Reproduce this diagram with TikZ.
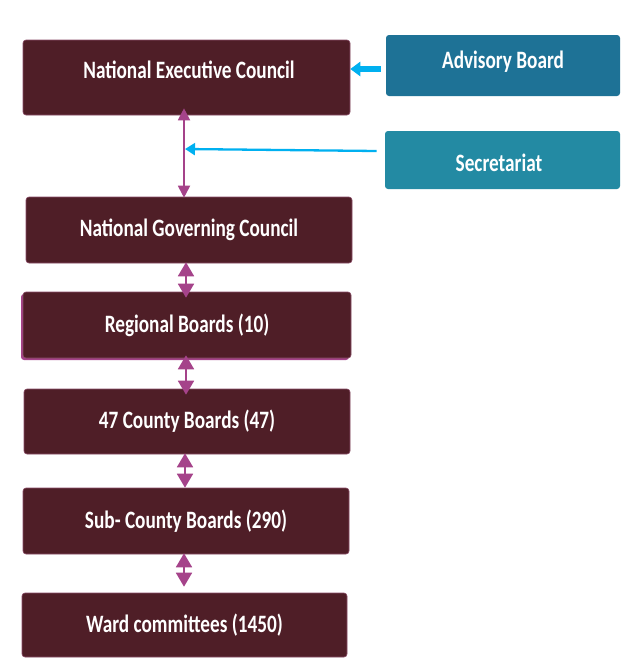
\documentclass[tikz,border=0pt]{standalone}
\usepackage{fontspec}
\usetikzlibrary{arrows.meta}
\newfontfamily\boxfont[FakeStretch=0.77]{Carlito}
\definecolor{maroon}{HTML}{4F1E27}
\definecolor{maroonedge}{HTML}{8A4C66}
\definecolor{advblue}{HTML}{1E7296}
\definecolor{secblue}{HTML}{238AA3}
\definecolor{magarrow}{HTML}{A5438A}
\definecolor{cyanarrow}{HTML}{00B0F0}
\tikzset{
  box/.style={rectangle, rounded corners=3pt, fill=maroon, draw=maroonedge, line width=0.6pt,
    text=white, font=\boxfont\bfseries\fontsize{25}{28}\selectfont, inner sep=0pt},
  sidebox/.style={box, draw=none},
  txt/.style={text=white, font=\boxfont\bfseries\fontsize{25}{28}\selectfont, inner sep=0pt},
  longlink/.style={magarrow, line width=1.8pt, {Triangle[width=12pt,length=12pt]}-{Triangle[width=12pt,length=12pt]}},
  shortlink/.style={magarrow, line width=1.8pt, {Triangle[width=16pt,length=14pt]}-{Triangle[width=16pt,length=14pt]}},
  seclink/.style={cyanarrow, line width=2.3pt, -{Triangle[width=12pt,length=10pt]}},
  advlink/.style={cyanarrow, line width=6pt, -{Triangle[width=14pt,length=10pt]}}
}
\begin{document}
\begin{tikzpicture}[x=1pt,y=-1pt]
\useasboundingbox[fill=white] (0,0) rectangle (638,670);
% boxes
\node[box, minimum width=327pt, minimum height=75pt] (nec) at (186.5,77.5) {};
\node[txt] (necl) at (189,70) {National Executive Council};
\node[sidebox, fill=advblue, minimum width=234pt, minimum height=61pt] (adv) at (503,65.5) {};
\node[txt] (advl) at (503,62) {Advisory Board};
\node[sidebox, fill=secblue, minimum width=235pt, minimum height=58pt] (sec) at (502.5,160) {};
\node[txt] (secl) at (499,163) {Secretariat};
\node[box, minimum width=326pt, minimum height=66pt] (ngc) at (189,230) {National Governing Council};
\fill[magarrow, rounded corners=3pt] (21,294) rectangle (349,360);
\node[box, minimum width=328pt, minimum height=66pt] (reg) at (187,325) {Regional Boards (10)};
\node[box, minimum width=326pt, minimum height=65pt] (cty) at (187,421.5) {47 County Boards (47)};
\node[box, minimum width=326pt, minimum height=66pt] (sub) at (186,521) {Sub- County Boards (290)};
\node[box, minimum width=325pt, minimum height=64pt] (ward) at (184.5,625) {Ward committees (1450)};
% connectors (yshift: positive = up on the page)
\draw[longlink] ([yshift=7pt]nec.south -| 184,0) -- ([yshift=-1pt]ngc.north -| 184,0);
\coordinate (join) at (185,149);
\draw[seclink] ([xshift=-8pt]sec.west |- 0,151) -- (join);
\draw[advlink] ([xshift=-5pt]adv.west |- 0,69) -- (nec.east |- 0,69);
\draw[shortlink] ([yshift=1pt]ngc.south -| 186,0) -- ([yshift=-6pt]reg.north -| 186,0);
\draw[shortlink] ([yshift=3pt]reg.south -| 186,0) -- ([yshift=-6pt]cty.north -| 186,0);
\draw[shortlink] ([yshift=1pt]cty.south -| 185,0) -- ([yshift=0pt]sub.north -| 185,0);
\draw[shortlink] ([yshift=1pt]sub.south -| 184,0) -- ([yshift=6pt]ward.north -| 184,0);
\end{tikzpicture}
\end{document}
